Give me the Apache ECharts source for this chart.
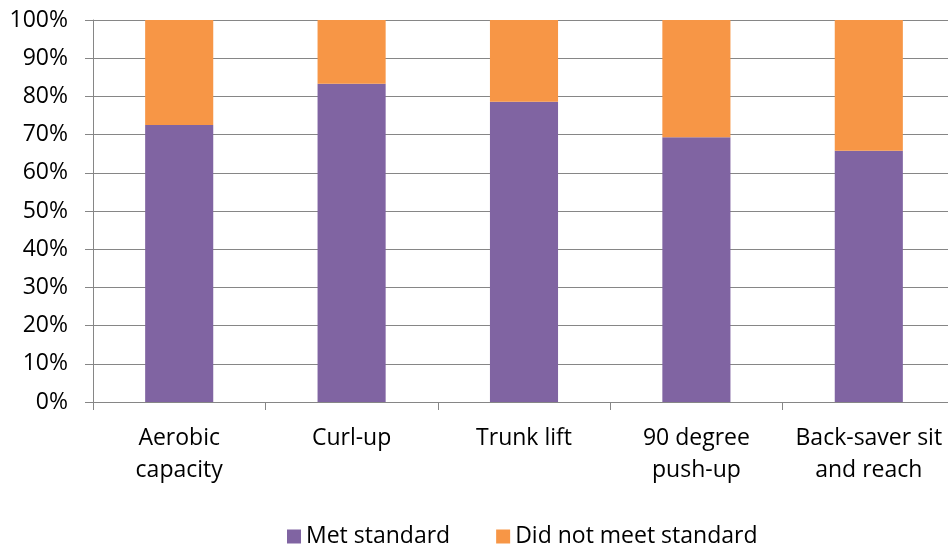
<!DOCTYPE html>
<html>
<head>
<meta charset="utf-8">
<script src="https://cdn.jsdelivr.net/npm/echarts@6/dist/echarts.min.js"></script>
<style>
  html, body { margin: 0; padding: 0; background: #fff; overflow: hidden; width: 948px; height: 544px; }
  /* the plot runs slightly past the right edge of the window */
  #chart { width: 955px; height: 544px; }
</style>
</head>
<body>
<div id="chart"></div>
<script>
// Fitness test results: share of students meeting each standard
const categories = ['Aerobic\ncapacity', 'Curl-up', 'Trunk lift', '90 degree\npush-up', 'Back-saver sit\nand reach'];
const metStandard = [72.5, 83.3, 78.6, 69.3, 65.8];
const didNotMeet = [27.5, 16.7, 21.4, 30.7, 34.2];
const seriesNames = ['Met standard', 'Did not meet standard'];

const FONT = '"Open Sans", "Noto Sans", sans-serif';
const GRID_GRAY = '#868686';

const chart = echarts.init(document.getElementById('chart'), null, { renderer: 'canvas' });
chart.setOption({
  animation: false,
  textStyle: { fontFamily: FONT, color: '#000' },
  grid: { left: 93, right: 0, top: 20, bottom: 142, containLabel: false },
  legend: {
    top: 520,
    left: 282,
    icon: 'rect',
    itemWidth: 14,
    itemHeight: 14,
    itemGap: 46,
    textStyle: { fontFamily: FONT, fontSize: 23, color: '#000' },
    data: seriesNames
  },
  xAxis: {
    type: 'category',
    data: categories,
    boundaryGap: true,
    axisLine: { show: true, lineStyle: { color: GRID_GRAY, width: 1 } },
    axisTick: { show: true, length: 8, lineStyle: { color: GRID_GRAY } },
    axisLabel: {
      interval: 0,
      margin: 20,
      fontFamily: FONT,
      fontSize: 23,
      lineHeight: 32,
      color: '#000'
    }
  },
  yAxis: {
    type: 'value',
    min: 0,
    max: 100,
    interval: 10,
    axisLine: { show: true, lineStyle: { color: GRID_GRAY, width: 1 } },
    axisTick: { show: true, length: 8, lineStyle: { color: GRID_GRAY } },
    splitLine: { show: true, lineStyle: { color: GRID_GRAY, width: 1 } },
    axisLabel: {
      margin: 25,
      fontFamily: FONT,
      fontSize: 23,
      color: '#000',
      formatter: v => v + '%'
    }
  },
  series: [
    {
      name: seriesNames[0],
      type: 'bar',
      stack: 'total',
      barWidth: '39.5%',
      itemStyle: { color: '#8064A2' },
      data: metStandard
    },
    {
      name: seriesNames[1],
      type: 'bar',
      stack: 'total',
      barWidth: '39.5%',
      itemStyle: { color: '#F79646' },
      data: didNotMeet
    }
  ]
});
</script>
</body>
</html>
